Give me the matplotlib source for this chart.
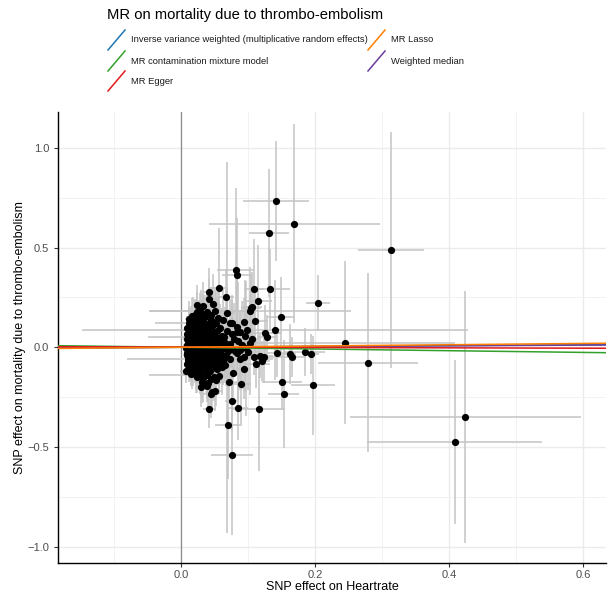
import numpy as np
import matplotlib
matplotlib.use("Agg")
import matplotlib.pyplot as plt
from matplotlib.lines import Line2D

plt.rcParams['font.family'] = ['Liberation Sans', 'DejaVu Sans']

# SNP effects: (beta exposure, beta outcome, se exposure, se outcome)
outlier_snps = [
    (0.141, 0.733, 0.049, 0.30), (0.169, 0.620, 0.127, 0.50), (0.131, 0.573, 0.030, 0.32),
    (0.081, 0.388, 0.028, 0.41), (0.083, 0.360, 0.022, 0.29), (0.313, 0.488, 0.049, 0.59),
    (0.204, 0.222, 0.018, 0.14), (0.244, 0.023, 0.164, 0.41), (0.279, -0.077, 0.075, 0.45),
    (0.184, -0.024, 0.030, 0.12), (0.193, -0.034, 0.012, 0.10), (0.197, -0.191, 0.033, 0.25),
    (0.424, -0.350, 0.172, 0.63), (0.408, -0.475, 0.131, 0.41), (0.076, -0.540, 0.031, 0.40),
    (0.070, -0.390, 0.020, 0.27), (0.042, -0.311, 0.010, 0.095), (0.085, -0.306, 0.015, 0.16),
    (0.116, -0.311, 0.039, 0.31), (0.153, -0.234, 0.023, 0.27), (0.044, -0.234, 0.012, 0.12),
    (0.075, -0.268, 0.010, 0.15), (0.051, -0.220, 0.010, 0.10), (0.143, -0.030, 0.015, 0.12),
    (0.162, -0.034, 0.010, 0.15), (0.165, -0.050, 0.020, 0.10), (0.150, -0.173, 0.030, 0.14),
    (0.089, -0.184, 0.015, 0.20), (0.077, -0.127, 0.012, 0.12), (0.093, -0.110, 0.010, 0.15),
    (0.112, -0.085, 0.020, 0.12), (0.088, -0.060, 0.010, 0.10), (0.093, -0.047, 0.015, 0.08),
    (0.108, -0.047, 0.012, 0.09), (0.117, -0.044, 0.020, 0.11), (0.123, -0.050, 0.015, 0.13),
    (0.120, -0.067, 0.012, 0.10), (0.083, -0.027, 0.015, 0.09), (0.108, 0.293, 0.015, 0.25),
    (0.133, 0.291, 0.030, 0.20), (0.115, 0.234, 0.020, 0.28), (0.105, 0.200, 0.015, 0.18),
    (0.103, 0.184, 0.150, 0.22), (0.149, 0.150, 0.020, 0.20), (0.110, 0.133, 0.020, 0.15),
    (0.094, 0.125, 0.015, 0.12), (0.140, 0.087, 0.288, 0.25), (0.098, 0.087, 0.012, 0.12),
    (0.083, 0.078, 0.015, 0.10), (0.125, 0.070, 0.025, 0.14), (0.128, 0.050, 0.015, 0.11),
    (0.105, 0.042, 0.012, 0.10), (0.075, 0.120, 0.010, 0.14), (0.056, 0.296, 0.010, 0.30),
    (0.041, 0.276, 0.008, 0.12), (0.042, 0.242, 0.010, 0.10), (0.067, 0.251, 0.012, 0.14),
    (0.023, 0.212, 0.006, 0.10), (0.028, 0.184, 0.076, 0.09), (0.039, 0.179, 0.008, 0.10),
    (0.050, 0.184, 0.010, 0.12), (0.068, 0.171, 0.012, 0.13), (0.021, 0.162, 0.006, 0.08),
    (0.104, 0.196, 0.015, 0.16), (0.073, 0.120, 0.010, 0.12), (0.087, 0.075, 0.012, 0.10),
    (0.011, 0.120, 0.050, 0.08), (0.0075, -0.117, 0.010, 0.06), (0.0145, -0.135, 0.015, 0.06),
    (0.029, -0.200, 0.008, 0.10), (0.039, -0.193, 0.008, 0.08), (0.046, -0.222, 0.010, 0.09),
    (0.071, -0.173, 0.012, 0.10), (0.057, -0.144, 0.010, 0.09), (0.066, -0.089, 0.010, 0.08),
    (0.053, -0.110, 0.008, 0.07), (0.023, -0.150, 0.008, 0.08), (0.069, 0.000, 0.010, 0.93),
]

cluster_snps = [
    (0.012, 0.142, 0.006, 0.09), (0.018, 0.131, 0.007, 0.12), (0.026, 0.138, 0.008, 0.10),
    (0.033, 0.127, 0.009, 0.14), (0.044, 0.135, 0.010, 0.11), (0.052, 0.121, 0.011, 0.16),
    (0.015, 0.112, 0.006, 0.07), (0.022, 0.104, 0.007, 0.10), (0.031, 0.109, 0.008, 0.13),
    (0.038, 0.101, 0.009, 0.08), (0.047, 0.114, 0.010, 0.15), (0.058, 0.098, 0.012, 0.12),
    (0.009, 0.095, 0.005, 0.06), (0.011, 0.087, 0.006, 0.08), (0.016, 0.079, 0.006, 0.07),
    (0.020, 0.091, 0.007, 0.11), (0.024, 0.072, 0.007, 0.09), (0.029, 0.083, 0.008, 0.12),
    (0.034, 0.068, 0.008, 0.10), (0.036, 0.088, 0.009, 0.07), (0.041, 0.076, 0.009, 0.13),
    (0.048, 0.064, 0.010, 0.11), (0.053, 0.081, 0.011, 0.17), (0.061, 0.059, 0.012, 0.14),
    (0.013, 0.061, 0.006, 0.06), (0.019, 0.054, 0.068, 0.08), (0.027, 0.050, 0.007, 0.10),
    (0.032, 0.057, 0.008, 0.09), (0.043, 0.049, 0.009, 0.12), (0.056, 0.046, 0.011, 0.15),
    (0.064, 0.052, 0.012, 0.13), (0.008, 0.041, 0.005, 0.05), (0.012, 0.033, 0.006, 0.07),
    (0.017, 0.038, 0.006, 0.06), (0.021, 0.027, 0.007, 0.08), (0.025, 0.036, 0.007, 0.10),
    (0.028, 0.021, 0.008, 0.07), (0.031, 0.031, 0.008, 0.09), (0.035, 0.018, 0.009, 0.11),
    (0.039, 0.035, 0.009, 0.08), (0.042, 0.024, 0.009, 0.12), (0.046, 0.013, 0.010, 0.10),
    (0.051, 0.029, 0.010, 0.14), (0.055, 0.017, 0.011, 0.09), (0.060, 0.031, 0.012, 0.13),
    (0.066, 0.022, 0.012, 0.18), (0.072, 0.014, 0.013, 0.12), (0.010, 0.019, 0.005, 0.06),
    (0.014, 0.011, 0.006, 0.05), (0.019, 0.016, 0.006, 0.07), (0.023, 0.008, 0.007, 0.06),
    (0.033, 0.005, 0.008, 0.09), (0.038, 0.010, 0.009, 0.08), (0.049, 0.006, 0.010, 0.11),
    (0.007, -0.002, 0.005, 0.05), (0.011, -0.009, 0.005, 0.06), (0.015, 0.001, 0.006, 0.07),
    (0.018, -0.014, 0.006, 0.06), (0.022, -0.004, 0.007, 0.08), (0.026, -0.019, 0.007, 0.07),
    (0.029, -0.007, 0.008, 0.10), (0.034, -0.024, 0.008, 0.09), (0.037, -0.011, 0.009, 0.08),
    (0.041, -0.003, 0.009, 0.11), (0.044, -0.017, 0.010, 0.10), (0.050, -0.008, 0.010, 0.12),
    (0.054, -0.026, 0.011, 0.09), (0.059, -0.013, 0.011, 0.14), (0.063, -0.004, 0.012, 0.11),
    (0.070, -0.018, 0.012, 0.13), (0.076, -0.009, 0.013, 0.16), (0.080, -0.021, 0.014, 0.12),
    (0.009, -0.027, 0.005, 0.06), (0.013, -0.021, 0.006, 0.05), (0.017, -0.031, 0.006, 0.07),
    (0.021, -0.028, 0.007, 0.08), (0.025, -0.035, 0.007, 0.07), (0.031, -0.032, 0.008, 0.09),
    (0.008, -0.041, 0.005, 0.06), (0.012, -0.048, 0.006, 0.07), (0.016, -0.039, 0.006, 0.06),
    (0.020, -0.055, 0.007, 0.08), (0.024, -0.044, 0.007, 0.07), (0.028, -0.061, 0.109, 0.09),
    (0.032, -0.050, 0.008, 0.08), (0.036, -0.038, 0.008, 0.10), (0.040, -0.057, 0.009, 0.09),
    (0.045, -0.046, 0.009, 0.12), (0.049, -0.064, 0.010, 0.11), (0.053, -0.041, 0.010, 0.10),
    (0.058, -0.053, 0.011, 0.13), (0.062, -0.067, 0.011, 0.12), (0.067, -0.044, 0.012, 0.15),
    (0.073, -0.057, 0.013, 0.12), (0.010, -0.066, 0.005, 0.06), (0.015, -0.071, 0.006, 0.07),
    (0.019, -0.063, 0.006, 0.08), (0.027, -0.074, 0.007, 0.09), (0.035, -0.069, 0.008, 0.10),
    (0.009, -0.083, 0.005, 0.06), (0.013, -0.092, 0.006, 0.07), (0.017, -0.079, 0.006, 0.06),
    (0.021, -0.097, 0.007, 0.08), (0.025, -0.086, 0.007, 0.09), (0.030, -0.101, 0.008, 0.10),
    (0.033, -0.088, 0.008, 0.09), (0.038, -0.095, 0.009, 0.12), (0.042, -0.078, 0.009, 0.10),
    (0.047, -0.091, 0.010, 0.11), (0.052, -0.103, 0.010, 0.13), (0.057, -0.084, 0.011, 0.12),
    (0.061, -0.097, 0.011, 0.14), (0.011, -0.105, 0.005, 0.07), (0.018, -0.112, 0.006, 0.08),
    (0.026, -0.118, 0.007, 0.09), (0.035, -0.113, 0.008, 0.10), (0.043, -0.121, 0.009, 0.11),
    (0.016, -0.128, 0.006, 0.08), (0.022, -0.141, 0.070, 0.09), (0.028, -0.133, 0.007, 0.10),
    (0.033, -0.152, 0.008, 0.12), (0.038, -0.138, 0.008, 0.11), (0.044, -0.161, 0.009, 0.13),
    (0.049, -0.147, 0.010, 0.12), (0.031, -0.172, 0.008, 0.11), (0.040, -0.179, 0.009, 0.14),
    (0.052, -0.166, 0.010, 0.13), (0.016, 0.158, 0.006, 0.09), (0.030, 0.165, 0.008, 0.12),
    (0.036, 0.151, 0.008, 0.11), (0.045, 0.160, 0.009, 0.14), (0.055, 0.149, 0.011, 0.13),
    (0.062, 0.139, 0.012, 0.16), (0.033, 0.205, 0.008, 0.12), (0.048, 0.219, 0.010, 0.15),
    (0.078, 0.043, 0.013, 0.18), (0.085, 0.029, 0.014, 0.30), (0.091, 0.012, 0.014, 0.22),
    (0.097, -0.006, 0.015, 0.34), (0.102, 0.021, 0.016, 0.26), (0.088, -0.015, 0.014, 0.20),
    (0.095, 0.055, 0.015, 0.28), (0.083, 0.101, 0.014, 0.24), (0.068, 0.082, 0.012, 0.20),
    (0.075, 0.066, 0.013, 0.17), (0.100, -0.025, 0.016, 0.19),
    # denser core of the cloud
    (0.014, 0.128, 0.006, 0.08), (0.024, 0.121, 0.007, 0.11), (0.040, 0.118, 0.009, 0.10),
    (0.014, 0.097, 0.006, 0.07), (0.027, 0.094, 0.007, 0.09), (0.044, 0.092, 0.010, 0.12),
    (0.018, 0.066, 0.006, 0.08), (0.038, 0.060, 0.009, 0.10), (0.050, 0.052, 0.010, 0.11),
    (0.015, 0.047, 0.006, 0.06), (0.029, 0.041, 0.008, 0.08), (0.047, 0.037, 0.010, 0.09),
    (0.017, 0.024, 0.006, 0.07), (0.027, 0.013, 0.007, 0.08), (0.043, 0.002, 0.009, 0.10),
    (0.056, 0.004, 0.011, 0.12), (0.020, -0.020, 0.007, 0.06), (0.039, -0.030, 0.009, 0.09),
    (0.047, -0.033, 0.010, 0.11), (0.060, -0.035, 0.011, 0.12), (0.014, -0.055, 0.006, 0.07),
    (0.031, -0.066, 0.008, 0.09), (0.044, -0.071, 0.009, 0.10), (0.055, -0.070, 0.011, 0.12),
    (0.021, -0.079, 0.007, 0.08), (0.029, -0.088, 0.008, 0.09), (0.049, -0.080, 0.010, 0.11),
    (0.015, -0.099, 0.006, 0.07), (0.039, -0.107, 0.009, 0.10), (0.022, -0.125, 0.007, 0.09),
    (0.030, -0.145, 0.008, 0.10), (0.020, 0.145, 0.007, 0.09), (0.009, 0.065, 0.005, 0.06),
    (0.008, 0.012, 0.005, 0.05), (0.010, -0.050, 0.005, 0.06), (0.024, 0.178, 0.007, 0.10),
]

snps = np.array(outlier_snps + cluster_snps)
bx, by, sx, sy = snps[:, 0], snps[:, 1], snps[:, 2], snps[:, 3]

# MR estimates per method
methods = ["Inverse variance weighted (multiplicative random effects)",
           "MR contamination mixture model", "MR Egger", "MR Lasso", "Weighted median"]
intercepts = [0.0, 0.0, 0.001, 0.0, 0.0]
slopes = [0.021, -0.043, -0.0095, 0.032, 0.018]
colours = ["#1F78B4", "#33A02C", "#E31A1C", "#FF7F00", "#6A3D9A"]
draw_order = [0, 4, 1, 2, 3]

fig = plt.figure(figsize=(6.09, 6.01), dpi=100)
W, H = 609, 601
ax = fig.add_axes([58 / W, 1 - 563 / H, (606 - 58) / W, (563 - 112) / H])

xlim = (-0.184, 0.634)
ax.set_xlim(*xlim)
ax.set_ylim(-1.082, 1.18)

ax.set_xticks([0, 0.2, 0.4, 0.6])
ax.set_xticklabels(["0.0", "0.2", "0.4", "0.6"])
ax.set_yticks([-1.0, -0.5, 0.0, 0.5, 1.0])
ax.set_yticklabels(["\u22121.0", "\u22120.5", "0.0", "0.5", "1.0"])
ax.set_xticks([-0.1, 0.1, 0.3, 0.5], minor=True)
ax.set_yticks([-0.75, -0.25, 0.25, 0.75], minor=True)
ax.grid(which="major", color="#ebebeb", lw=1.0, zorder=0)
ax.grid(which="minor", color="#f2f2f2", lw=0.7, zorder=0)
ax.tick_params(which="major", length=3, color="#333333", labelcolor="#4d4d4d", labelsize=8)
ax.tick_params(axis="x", pad=2)
ax.tick_params(which="minor", length=0)
for s in ["top", "right"]:
    ax.spines[s].set_visible(False)
for s in ["left", "bottom"]:
    ax.spines[s].set_color("black")
    ax.spines[s].set_linewidth(1.0)
ax.set_axisbelow(True)

ax.axvline(0, color="#8c8c8c", lw=0.9, zorder=1)

ax.errorbar(bx, by, xerr=sx, yerr=sy, fmt="none", ecolor="#c4c4c4",
            elinewidth=1.1, capsize=0, zorder=2)
ax.scatter(bx, by, s=27, color="black", zorder=3, linewidths=0)

xs = np.array(xlim)
for i in draw_order:
    ax.plot(xs, intercepts[i] + slopes[i] * xs, color=colours[i], lw=1.1, zorder=4)

ax.set_xlabel("SNP effect on Heartrate", fontsize=9)
ax.xaxis.set_label_coords(0.5, -0.040)
ax.set_ylabel("SNP effect on mortality due to thrombo-embolism", fontsize=9)
ax.yaxis.set_label_coords(-0.058, 0.5)

# title and legend on top
fig.text(107 / W, 1 - 15 / H, "MR on mortality due to thrombo-embolism",
         fontsize=10.6, va="center", ha="left", color="black")
legend_pos = [(108, 40), (108, 61), (108, 81), (368, 40), (368, 61)]
legend_rows = [0, 1, 2, 3, 4]
for i, (px, py) in zip(legend_rows, legend_pos):
    fig.add_artist(Line2D([px / W, (px + 17) / W], [1 - (py + 10) / H, 1 - (py - 10) / H],
                          color=colours[i], lw=1.1, transform=fig.transFigure))
    fig.text((px + 23) / W, 1 - py / H, methods[i], fontsize=6.75, va="center", ha="left",
             color="#1a1a1a")

fig.savefig("out.png", dpi=100)
